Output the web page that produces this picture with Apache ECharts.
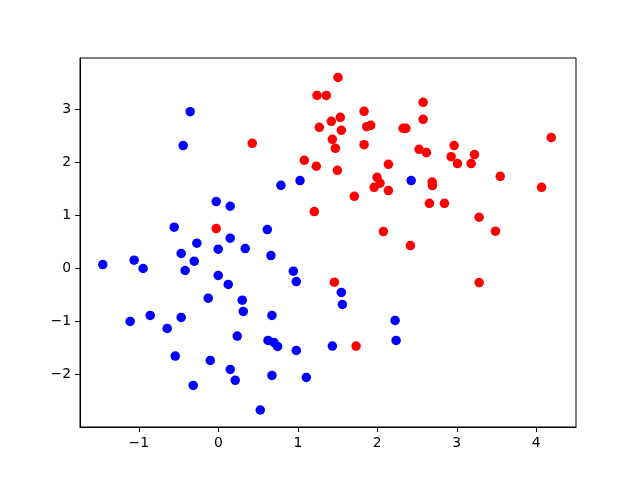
<!DOCTYPE html>
<html>
<head>
<meta charset="utf-8">
<script src="https://cdn.jsdelivr.net/npm/echarts@6/dist/echarts.min.js"></script>
<style>html,body{margin:0;padding:0;background:#fff}#c{width:640px;height:480px}</style>
</head>
<body>
<div id="c"></div>
<script>
const blueX = [-0.354,-0.442,-0.026,0.150,-0.555,0.150,-0.270,-0.467,-0.001,0.339,-1.453,-1.059,-0.946,-0.303,-0.417,-0.001,0.125,-0.127,0.301,0.314,-1.109,-0.857,-0.467,-0.643,0.238,-0.542,-0.101,0.150,0.213,-0.316,0.788,1.028,2.426,0.616,0.662,0.944,0.981,1.548,1.561,0.675,2.224,0.625,0.700,0.746,0.981,1.435,2.237,0.675,1.107,0.528];
const blueY = [2.957,2.315,1.258,1.170,0.774,0.566,0.472,0.277,0.358,0.371,0.069,0.151,-0.006,0.132,-0.044,-0.138,-0.308,-0.566,-0.604,-0.818,-1.006,-0.893,-0.931,-1.138,-1.283,-1.660,-1.742,-1.912,-2.119,-2.214,1.566,1.654,1.654,0.730,0.239,-0.057,-0.252,-0.459,-0.686,-0.893,-0.987,-1.365,-1.403,-1.478,-1.553,-1.472,-1.365,-2.025,-2.063,-2.679];
const redX = [1.506,1.242,1.359,1.834,1.422,1.535,1.271,1.548,1.867,1.918,2.325,2.359,1.435,1.472,1.834,0.427,1.082,1.233,1.498,2.140,1.997,2.035,1.960,2.140,1.711,1.208,2.077,-0.026,1.460,1.733,2.417,2.577,2.577,4.189,2.526,2.618,2.967,2.929,3.009,3.223,3.181,2.690,2.694,3.547,4.067,2.656,2.845,3.281,3.487,3.282];
const redY = [3.604,3.264,3.264,2.962,2.774,2.849,2.660,2.604,2.673,2.698,2.642,2.642,2.434,2.264,2.333,2.358,2.038,1.925,1.849,1.962,1.717,1.604,1.528,1.466,1.358,1.069,0.692,0.749,-0.264,-1.472,0.428,3.132,2.811,2.466,2.245,2.183,2.315,2.107,1.975,2.145,1.975,1.628,1.560,1.736,1.528,1.226,1.226,0.962,0.698,-0.271];
const xTicks = [-1,0,1,2,3,4];
const yTicks = [-2,-1,0,1,2,3];

const fmt = v => String(v).replace('-', '\u2212');
const font = '"DejaVu Sans", sans-serif';
function axis(ticks, min, max) {
  return {
    type: 'value', min: min, max: max,
    axisLine: {show: true, onZero: false, lineStyle: {color: '#000', width: 1}},
    axisTick: {show: true, inside: false, length: 5, customValues: ticks, lineStyle: {color: '#000', width: 1}},
    axisLabel: {show: true, customValues: ticks, formatter: fmt, color: '#000', fontFamily: font, fontSize: 13.9, margin: 9},
    splitLine: {show: false}
  };
}
const chart = echarts.init(document.getElementById('c'), null, {renderer: 'canvas'});
chart.setOption({
  animation: false,
  backgroundColor: '#fff',
  grid: {left: 80, right: 64, top: 58, bottom: 53, show: true, borderColor: '#000', borderWidth: 1, backgroundColor: 'transparent'},
  xAxis: axis(xTicks, -1.74, 4.50),
  yAxis: axis(yTicks, -3.0, 3.97),
  series: [
    {type: 'scatter', data: blueX.map((x, i) => [x, blueY[i]]), symbol: 'circle', symbolSize: 9.5, itemStyle: {color: '#0000ff', opacity: 1}},
    {type: 'scatter', data: redX.map((x, i) => [x, redY[i]]), symbol: 'circle', symbolSize: 9.5, itemStyle: {color: '#ff0000', opacity: 1}}
  ]
});
</script>
</body>
</html>
